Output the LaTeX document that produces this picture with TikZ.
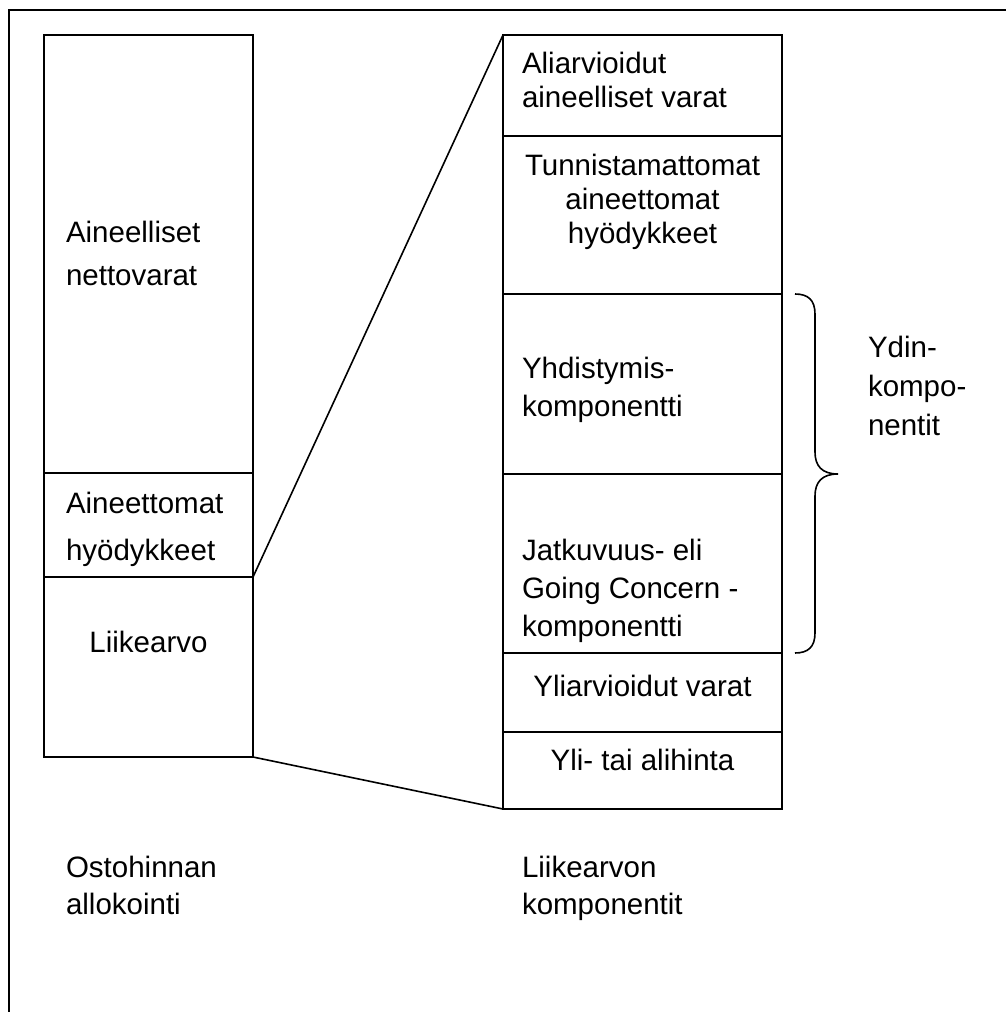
\documentclass[tikz,border=0pt]{standalone}
\usepackage{fontspec}
\setmainfont{Liberation Sans}
\begin{document}
\begin{tikzpicture}[x=1pt,y=-1pt,
  cell/.style={draw,line width=1.6pt,rectangle,anchor=north west,inner sep=0pt,outer sep=0pt},
  lbl/.style={inner sep=0pt,outer sep=0pt,font=\fontsize{29.5}{34}\selectfont},
  link/.style={line width=1.6pt},
  frame/.style={line width=2.6pt}]
\useasboundingbox (0,0) rectangle (1006,1012);
% open frame
\coordinate (f1) at (9,1014);
\coordinate (f2) at (9,10);
\coordinate (f3) at (1008,10);
\draw[frame] (f1) -- (f2) -- (f3);
% left column
\node[cell,minimum width=209pt,minimum height=438pt] (ln) at (44,35) {};
\node[cell,minimum width=209pt,minimum height=104pt] (la) at (44,473) {};
\node[cell,minimum width=209pt,minimum height=180pt] (lg) at (44,577) {};
% right column
\node[cell,minimum width=279pt,minimum height=101pt] (r1) at (503,35) {};
\node[cell,minimum width=279pt,minimum height=158pt] (r2) at (503,136) {};
\node[cell,minimum width=279pt,minimum height=180pt] (r3) at (503,294) {};
\node[cell,minimum width=279pt,minimum height=179pt] (r4) at (503,474) {};
\node[cell,minimum width=279pt,minimum height=79pt] (r5) at (503,653) {};
\node[cell,minimum width=279pt,minimum height=77pt] (r6) at (503,732) {};
% connectors
\draw[link] (lg.north east) -- (r1.north west);
\draw[link] (lg.south east) -- (r6.south west);
% brace
\coordinate (bt) at (795,294);
\coordinate (bm) at (838,474);
\coordinate (bb) at (795,653);
\draw[line width=1.6pt] (bt) .. controls (808,294) and (815,300) .. (815,314)
  -- (815,452) .. controls (815,466) and (822,474) .. (bm)
  .. controls (822,474) and (815,482) .. (815,496)
  -- (815,633) .. controls (815,647) and (808,653) .. (bb);
% texts left
\node[lbl,anchor=north west,align=left,font=\fontsize{29.5}{43}\selectfont] (t1) at (66,221) {Aineelliset\\nettovarat};
\node[lbl,anchor=north west,align=left,font=\fontsize{29.5}{47}\selectfont] (t2) at (66,492) {Aineettomat\\hyödykkeet};
\node[lbl,anchor=base] (t3) at (148.5,652) {Liikearvo};
\node[lbl,anchor=north west,align=left,font=\fontsize{29.5}{37}\selectfont] (t4) at (66,856) {Ostohinnan\\allokointi};
% texts right
\node[lbl,anchor=north west,align=left] (s1) at (522,52) {Aliarvioidut\\aineelliset varat};
\node[lbl,anchor=north,align=center] (s2) at (642.5,154) {Tunnistamattomat\\aineettomat\\hyödykkeet};
\node[lbl,anchor=north west,align=left,font=\fontsize{29.5}{38}\selectfont] (s3) at (522,357) {Yhdistymis-\\komponentti};
\node[lbl,anchor=north west,align=left,font=\fontsize{29.5}{38}\selectfont] (s4) at (522,539) {Jatkuvuus- eli\\Going Concern -\\komponentti};
\node[lbl,anchor=base] (s5) at (642.5,696) {Yliarvioidut varat};
\node[lbl,anchor=base] (s6) at (642.5,770) {Yli- tai alihinta};
\node[lbl,anchor=north west,align=left,font=\fontsize{29.5}{37}\selectfont] (s7) at (522,856) {Liikearvon\\komponentit};
\node[lbl,anchor=north west,align=left,font=\fontsize{29.5}{39}\selectfont] (yd) at (868,336) {Ydin-\\kompo-\\nentit};
\end{tikzpicture}
\end{document}
